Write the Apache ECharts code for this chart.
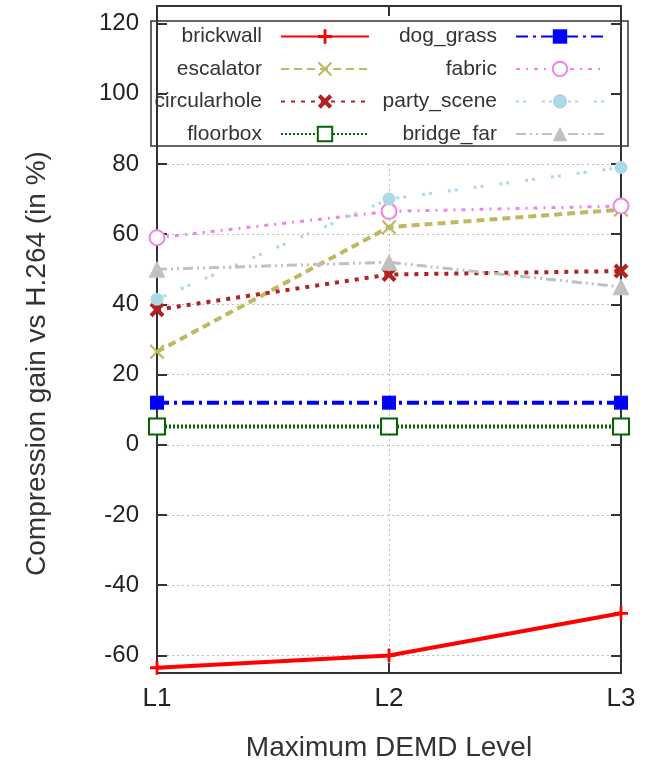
<!DOCTYPE html>
<html>
<head>
<meta charset="utf-8">
<script src="https://cdn.jsdelivr.net/npm/echarts@6/dist/echarts.min.js"></script>
<style>
  html, body { margin: 0; padding: 0; background: #fff; }
  #chart { width: 656px; height: 769px; }
</style>
</head>
<body>
<div id="chart"></div>
<script>
// levels on the x axis
const levels = ["L1", "L2", "L3"];
const yTicks = [-60, -40, -20, 0, 20, 40, 60, 80, 100, 120];

// compression gain per sequence (in %)
const brickwall = [-63.5, -60, -48];
const dogGrass = [12, 12, 12];
const escalator = [26.5, 62, 67];
const fabric = [59, 66.5, 68];
const circularhole = [38.5, 48.5, 49.5];
const partyScene = [41.5, 70, 79];
const floorbox = [5.2, 5.2, 5.2];
const bridgeFar = [50, 52, 45];

const PLUS = "path://M4,0h2v4h4v2h-4v4h-2v-4h-4v-2h4z";
const XTHIN = "path://M0,1L1,0L5,4L9,0L10,1L6,5L10,9L9,10L5,6L1,10L0,9L4,5z";
const XTHICK = "path://M0,2L2,0L5,3L8,0L10,2L7,5L10,8L8,10L5,7L2,10L0,8L3,5z";

const font = "Liberation Sans, Arial, sans-serif";
const frame = () => ({ show: true, onZero: false, lineStyle: { color: "#333", width: 2 } });
const ticks = (extra) => Object.assign({ show: true, inside: true, length: 10, lineStyle: { color: "#333", width: 2 } }, extra || {});
const legendText = { fontSize: 21, color: "#333", fontFamily: font, padding: [0, 14, 0, 0] };

function line(name, data, color, dash, width, symbol, size, extra) {
    return Object.assign({
        name: name,
        type: "line",
        data: data,
        xAxisIndex: 0,
        yAxisIndex: 0,
        z: 12,
        clip: false,
        symbol: symbol,
        symbolSize: size,
        itemStyle: { color: color },
        lineStyle: { color: color, width: width, type: dash },
    }, extra || {});
}

const chart = echarts.init(document.getElementById("chart"));

const option = {
    animation: false,
    backgroundColor: "#fff",
    textStyle: { fontFamily: font },
    grid: [
        { left: 157, right: 35, top: 6, bottom: 96 },
        // only used for the dotted grid lines (-60..80)
        { left: 157, right: 35, top: 164.1, bottom: 113.6 },
    ],
    legend: [
        {
            data: ["brickwall", "escalator", "circularhole", "floorbox"],
            orient: "vertical",
            align: "right",
            right: 281,
            top: 21,
            itemWidth: 88,
            itemHeight: 18,
            itemGap: 11.5,
            z: 20,
            textStyle: legendText,
        },
        {
            data: ["dog_grass", "fabric", "party_scene", "bridge_far"],
            orient: "vertical",
            align: "right",
            right: 46,
            top: 21,
            itemWidth: 88,
            itemHeight: 18,
            itemGap: 11.5,
            z: 20,
            textStyle: legendText,
        },
    ],
    graphic: [
        {
            type: "rect",
            z: 5,
            shape: { x: 151, y: 21, width: 477, height: 125 },
            style: { fill: "#fff", stroke: "#333", lineWidth: 1.5 },
        },
    ],
    xAxis: [
        {
            type: "category",
            data: levels,
            boundaryGap: false,
            gridIndex: 0,
            z: 10,
            axisLine: frame(),
            axisTick: ticks(),
            axisLabel: { fontSize: 26, color: "#222", margin: 13 },
            splitLine: { show: false },
            name: "Maximum DEMD Level",
            nameLocation: "middle",
            nameGap: 61,
            nameTextStyle: { fontSize: 28, color: "#333" },
        },
        {
            type: "category",
            data: levels,
            boundaryGap: false,
            gridIndex: 0,
            position: "top",
            z: 10,
            axisLine: frame(),
            axisTick: ticks(),
            axisLabel: { show: false },
            splitLine: { show: false },
        },
        {
            type: "category",
            data: levels,
            boundaryGap: false,
            gridIndex: 1,
            z: 0,
            axisLine: { show: false },
            axisTick: { show: false },
            axisLabel: { show: false },
            splitLine: { show: true, lineStyle: { color: "#bbb", width: 1, type: [2, 3] } },
        },
    ],
    yAxis: [
        {
            type: "value",
            min: -65,
            max: 125,
            gridIndex: 0,
            z: 10,
            axisLine: frame(),
            axisTick: ticks({ customValues: yTicks }),
            axisLabel: { fontSize: 24, color: "#222", margin: 18, customValues: yTicks },
            splitLine: { show: false },
            name: "Compression gain vs H.264 (in %)",
            nameLocation: "middle",
            nameGap: 106,
            nameTextStyle: { fontSize: 28, color: "#333", padding: [0, 48, 0, 0] },
        },
        {
            type: "value",
            min: -65,
            max: 125,
            gridIndex: 0,
            position: "right",
            z: 10,
            axisLine: frame(),
            axisTick: ticks({ customValues: yTicks }),
            axisLabel: { show: false },
            splitLine: { show: false },
        },
        {
            type: "value",
            min: -60,
            max: 80,
            interval: 20,
            gridIndex: 1,
            z: 0,
            axisLine: { show: false },
            axisTick: { show: false },
            axisLabel: { show: false },
            splitLine: { show: true, lineStyle: { color: "#bbb", width: 1, type: [2, 3] } },
        },
    ],
    series: [
        line("brickwall", brickwall, "#ff0000", "solid", 4, PLUS, 14),
        line("escalator", escalator, "#c0b860", [8, 5], 4, XTHIN, 15),
        line("circularhole", circularhole, "#b22222", [4, 6], 4, XTHICK, 15),
        line("floorbox", floorbox, "#006400", [2, 2], 4, "emptyRect", 16,
            { itemStyle: { color: "#006400", borderColor: "#006400", borderWidth: 6 } }),
        line("dog_grass", dogGrass, "#0000ff", [12, 5, 3, 5], 4, "rect", 14),
        line("fabric", fabric, "#ee82ee", [4, 6, 2, 6], 3, "emptyCircle", 15,
            { itemStyle: { color: "#ee82ee", borderColor: "#ee82ee", borderWidth: 4 } }),
        line("party_scene", partyScene, "#add8e6", [3, 4, 3, 16], 3, "circle", 13),
        line("bridge_far", bridgeFar, "#c0c0c0", [10, 4, 2, 4, 2, 4], 3, "triangle", 17),
    ],
};

chart.setOption(option);
</script>
</body>
</html>
